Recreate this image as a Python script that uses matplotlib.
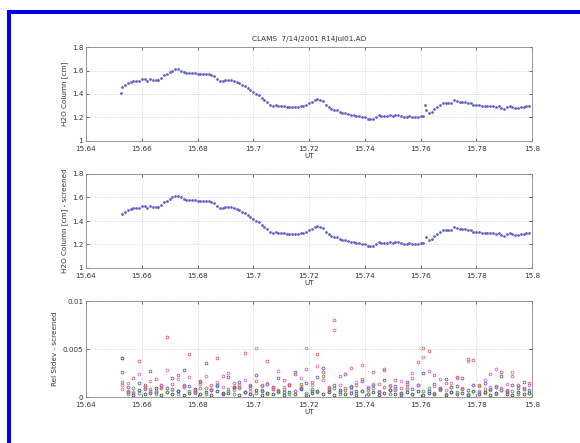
import matplotlib
matplotlib.use('Agg')
import matplotlib.pyplot as plt
from matplotlib.patches import Rectangle

# H2O column (cm) sampled every ~0.001 h
h2o_t = [15.653, 15.654, 15.655, 15.656, 15.657, 15.658, 15.659, 15.660, 15.661, 15.662,
         15.663, 15.664, 15.665, 15.666, 15.667, 15.668, 15.669, 15.670, 15.671, 15.672,
         15.673, 15.674, 15.675, 15.676, 15.677, 15.678, 15.679, 15.680, 15.681, 15.682,
         15.683, 15.684, 15.685, 15.686, 15.687, 15.688, 15.689, 15.690, 15.691, 15.692,
         15.693, 15.694, 15.695, 15.696, 15.697, 15.698, 15.699, 15.700, 15.701, 15.702,
         15.703, 15.704, 15.705, 15.706, 15.707, 15.708, 15.709, 15.710, 15.711, 15.712,
         15.713, 15.714, 15.715, 15.716, 15.717, 15.718, 15.719, 15.720, 15.721, 15.722,
         15.723, 15.724, 15.725, 15.726, 15.727, 15.728, 15.729, 15.730, 15.731, 15.732,
         15.733, 15.734, 15.735, 15.736, 15.737, 15.738, 15.739, 15.740, 15.741, 15.742,
         15.743, 15.744, 15.745, 15.746, 15.747, 15.748, 15.749, 15.750, 15.751, 15.752,
         15.753, 15.754, 15.755, 15.756, 15.757, 15.758, 15.759, 15.760, 15.761, 15.762,
         15.763, 15.764, 15.765, 15.766, 15.767, 15.768, 15.769, 15.770, 15.771, 15.772,
         15.773, 15.774, 15.775, 15.776, 15.777, 15.778, 15.779, 15.780, 15.781, 15.782,
         15.783, 15.784, 15.785, 15.786, 15.787, 15.788, 15.789, 15.790, 15.791, 15.792,
         15.793, 15.794, 15.795, 15.796, 15.797, 15.798, 15.799]
h2o = [1.46, 1.48, 1.49, 1.50, 1.51, 1.51, 1.51, 1.53, 1.53, 1.51,
       1.53, 1.52, 1.52, 1.52, 1.54, 1.56, 1.57, 1.59, 1.60, 1.61,
       1.61, 1.60, 1.59, 1.58, 1.58, 1.58, 1.58, 1.57, 1.57, 1.57,
       1.57, 1.57, 1.56, 1.55, 1.53, 1.51, 1.51, 1.52, 1.52, 1.52,
       1.51, 1.50, 1.49, 1.48, 1.47, 1.45, 1.43, 1.42, 1.40, 1.39,
       1.37, 1.35, 1.33, 1.31, 1.30, 1.31, 1.30, 1.30, 1.30, 1.29,
       1.29, 1.29, 1.29, 1.29, 1.30, 1.30, 1.31, 1.32, 1.33, 1.35,
       1.36, 1.35, 1.34, 1.31, 1.29, 1.27, 1.26, 1.26, 1.25, 1.24,
       1.24, 1.23, 1.22, 1.22, 1.21, 1.21, 1.20, 1.20, 1.19, 1.19,
       1.19, 1.20, 1.22, 1.21, 1.21, 1.21, 1.22, 1.21, 1.22, 1.22,
       1.21, 1.20, 1.20, 1.21, 1.20, 1.20, 1.20, 1.21, 1.21, 1.26,
       1.24, 1.25, 1.27, 1.29, 1.31, 1.32, 1.32, 1.32, 1.32, 1.35,
       1.34, 1.33, 1.33, 1.33, 1.32, 1.32, 1.31, 1.31, 1.31, 1.30,
       1.30, 1.30, 1.30, 1.30, 1.29, 1.30, 1.28, 1.27, 1.29, 1.30,
       1.29, 1.28, 1.28, 1.29, 1.29, 1.30, 1.30]
# points removed by screening (only in top panel)
rejected_t = [15.6525, 15.7615]
rejected = [1.41, 1.31]

# relative stdev per channel, in units of 1e-3
rel_t = [15.653, 15.655, 15.657, 15.659, 15.661, 15.663, 15.665, 15.667, 15.669, 15.671,
         15.673, 15.675, 15.677, 15.679, 15.681, 15.683, 15.685, 15.687, 15.689, 15.691,
         15.693, 15.695, 15.697, 15.699, 15.701, 15.703, 15.705, 15.707, 15.709, 15.711,
         15.713, 15.715, 15.717, 15.719, 15.721, 15.723, 15.725, 15.727, 15.729, 15.731,
         15.733, 15.735, 15.737, 15.739, 15.741, 15.743, 15.745, 15.747, 15.749, 15.751,
         15.753, 15.755, 15.757, 15.759, 15.761, 15.763, 15.765, 15.767, 15.769, 15.771,
         15.773, 15.775, 15.777, 15.779, 15.781, 15.783, 15.785, 15.787, 15.789, 15.791,
         15.793, 15.795, 15.797, 15.799]
rel_red = [1.2, 0.6, 2.0, 3.7, 1.1, 0.8, 1.9, 0.9, 6.2, 1.4, 2.3, 1.1, 4.5, 0.7, 1.6,
           0.9, 1.2, 4.1, 2.2, 0.8, 1.5, 1.0, 4.6, 0.9, 1.7, 1.2, 3.8, 1.0, 0.7, 1.8,
           1.3, 2.4, 1.1, 2.9, 1.6, 4.5, 2.6, 1.0, 8.0, 2.2, 0.9, 3.0, 1.2, 1.9, 0.7,
           2.6, 1.4, 2.8, 1.1, 1.8, 0.9, 1.4, 2.0, 3.6, 5.1, 4.8, 2.3, 0.8, 1.5, 1.0,
           2.1, 0.9, 4.0, 3.9, 1.2, 0.8, 2.4, 1.1, 2.6, 0.7, 2.2, 1.3, 0.9, 1.5]
rel_mag = [0.8, 1.5, 0.5, 2.4, 0.9, 1.7, 0.6, 1.3, 2.8, 0.7, 1.9, 1.0, 2.1, 0.6, 1.4,
           2.2, 0.8, 1.6, 1.0, 2.5, 0.7, 1.2, 1.8, 0.6, 5.1, 1.1, 1.5, 0.8, 2.7, 1.0,
           1.4, 0.6, 2.0, 5.1, 1.2, 3.2, 1.8, 0.9, 7.0, 1.3, 2.4, 0.7, 1.6, 3.3, 1.0,
           1.4, 0.6, 2.9, 1.2, 0.8, 1.7, 1.0, 2.5, 1.3, 4.2, 2.7, 1.1, 1.9, 0.7, 1.5,
           2.0, 0.8, 3.8, 1.2, 0.6, 1.8, 1.0, 2.9, 0.7, 1.4, 2.6, 1.1, 0.8, 1.2]
rel_blue = [2.6, 1.0, 0.4, 1.5, 0.8, 2.7, 0.5, 1.2, 0.9, 2.0, 0.6, 2.8, 1.1, 0.5, 1.7,
            3.5, 0.7, 1.3, 0.4, 2.1, 0.9, 1.6, 0.5, 1.1, 2.3, 0.6, 1.4, 0.8, 2.0, 0.5,
            1.2, 2.6, 0.9, 1.5, 0.6, 2.1, 3.0, 0.8, 1.3, 0.5, 2.4, 1.0, 0.6, 1.7, 0.9,
            1.3, 0.5, 1.8, 0.7, 1.1, 0.4, 1.6, 0.8, 1.2, 2.5, 0.6, 1.4, 0.9, 1.9, 0.5,
            1.1, 2.0, 0.7, 1.3, 0.5, 1.5, 0.8, 1.0, 2.2, 0.6, 1.2, 0.9, 1.6, 0.7]
rel_green = [1.6, 0.3, 0.9, 0.4, 1.3, 0.6, 0.3, 1.0, 0.5, 0.8, 0.3, 1.2, 0.6, 0.4, 0.9,
             0.3, 0.7, 1.1, 0.4, 0.6, 0.3, 0.9, 0.5, 1.2, 0.4, 0.7, 0.3, 1.0, 0.5, 0.8,
             0.3, 0.6, 1.4, 0.4, 0.8, 0.5, 2.2, 0.6, 0.9, 0.3, 0.7, 1.1, 0.4, 0.6, 0.3,
             0.9, 0.5, 1.0, 0.3, 0.7, 0.4, 0.8, 0.3, 1.3, 0.6, 0.9, 0.4, 0.7, 0.3, 1.0,
             0.5, 0.8, 0.3, 0.6, 1.1, 0.4, 0.7, 0.3, 0.9, 0.5, 0.6, 0.3, 0.8, 0.4]
rel_black = [4.1, 0.5, 0.2, 0.7, 0.3, 0.4, 0.9, 0.2, 0.5, 0.3, 0.6, 0.2, 0.4, 0.8, 0.3,
             0.5, 0.2, 0.6, 0.3, 0.4, 1.0, 0.2, 0.5, 0.3, 0.7, 0.2, 0.4, 0.3, 0.6, 0.2,
             0.5, 0.3, 0.8, 0.2, 0.4, 0.6, 0.3, 0.5, 0.2, 0.7, 0.3, 0.4, 0.2, 0.6, 0.3,
             0.5, 0.2, 0.4, 0.7, 0.3, 0.2, 0.5, 0.3, 0.6, 0.2, 0.4, 0.3, 0.8, 0.2, 0.5,
             0.3, 0.4, 0.2, 0.6, 0.3, 0.5, 0.2, 0.4, 0.7, 0.3, 0.2, 0.5, 0.3, 0.4]

xticks = [15.64, 15.66, 15.68, 15.7, 15.72, 15.74, 15.76, 15.78, 15.8]
xticklabels = ['15.64', '15.66', '15.68', '15.7', '15.72', '15.74', '15.76', '15.78', '15.8']

TXT = '#333333'
FS = 5.2

fig = plt.figure(figsize=(5.8, 4.43), dpi=100)
fig.patch.set_facecolor('white')

# blue frame (left and top edges only, as in the crop)
fig.add_artist(Rectangle((7 / 580, 0), 4 / 580, 433 / 443, transform=fig.transFigure,
                         color='#0000ee', lw=0))
fig.add_artist(Rectangle((7 / 580, 429 / 443), 573 / 580, 4 / 443, transform=fig.transFigure,
                         color='#0000ee', lw=0))


def style(ax, ylabel):
    ax.set_xlim(15.64, 15.8)
    ax.set_xticks(xticks)
    ax.set_xticklabels(xticklabels)
    ax.grid(True, color='#c8c8c8', linestyle=':', linewidth=0.6)
    for s in ax.spines.values():
        s.set_color('#888888')
        s.set_linewidth(0.6)
    ax.tick_params(labelsize=FS, colors=TXT, length=2, width=0.5, direction='in',
                   top=True, right=True)
    ax.tick_params(axis='x', pad=3.5)
    ax.tick_params(axis='y', pad=2)
    ax.set_xlabel('UT', fontsize=FS, color=TXT, labelpad=1)
    ax.set_ylabel(ylabel, fontsize=FS, color=TXT, labelpad=3)


ax1 = fig.add_axes([86 / 580, 1 - 141 / 443, 446 / 580, 94 / 443])
ax1.plot(h2o_t + rejected_t, h2o + rejected, '.', color='#6464c8', ms=2.0)
ax1.set_ylim(1, 1.8)
ax1.set_yticks([1, 1.2, 1.4, 1.6, 1.8])
ax1.set_yticklabels(['1', '1.2', '1.4', '1.6', '1.8'])
style(ax1, 'H2O Column [cm]')
ax1.set_title('CLAMS  7/14/2001 R14Jul01.AD', fontsize=FS, color=TXT, pad=4)

ax2 = fig.add_axes([86 / 580, 1 - 268 / 443, 446 / 580, 94 / 443])
ax2.plot(h2o_t, h2o, '.', color='#6464c8', ms=2.0)
ax2.set_ylim(1, 1.8)
ax2.set_yticks([1, 1.2, 1.4, 1.6, 1.8])
ax2.set_yticklabels(['1', '1.2', '1.4', '1.6', '1.8'])
style(ax2, 'H2O Column [cm] - screened')

ax3 = fig.add_axes([86 / 580, 1 - 397 / 443, 446 / 580, 96 / 443])
for vals, col in [(rel_black, '#404040'), (rel_green, '#50a050'), (rel_blue, '#5a5ad2'),
                  (rel_mag, '#d070d0'), (rel_red, '#e06060')]:
    ax3.plot(rel_t, [v * 1e-3 for v in vals], 'o', mfc='none', mec=col, ms=2.0, mew=0.6)
ax3.set_ylim(0, 0.01)
ax3.set_yticks([0, 0.005, 0.01])
ax3.set_yticklabels(['0', '0.005', '0.01'])
style(ax3, 'Rel Stdev - screened')

fig.savefig('out.png', dpi=100, facecolor='white')
